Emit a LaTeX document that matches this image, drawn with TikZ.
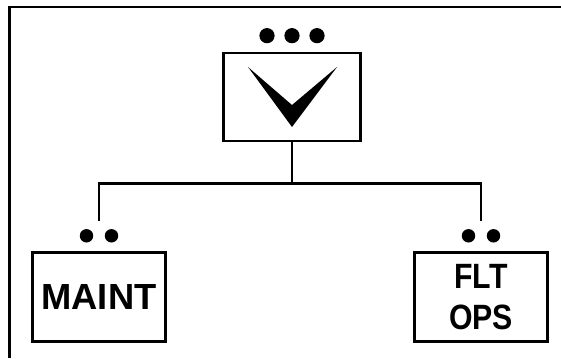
\documentclass[tikz,border=0pt]{standalone}
\usepackage{fontspec}
\setmainfont{Liberation Sans}
\usepackage{tikz}
\usetikzlibrary{positioning, calc}

\begin{document}
\begin{tikzpicture}[
        x=0.03cm, y=-0.03cm,
        b/.style={rectangle, draw, line width=2.4pt, fill=white, align=center, inner sep=0pt,
            minimum width=114pt, minimum height=76.5pt},
        ln/.style={line width=2.4pt},
        pip/.style={circle, fill=black, inner sep=0pt, minimum size=11.5pt}
    ]
    \useasboundingbox (0,0) rectangle (561,358);
    \draw[ln] (561,7) -- (9.5,7) -- (9.5,358);
    \node[b, minimum width=117pt, minimum height=75pt] (sel) at (292,97) {};
    \node[b, font=\fontsize{31}{35}\selectfont\bfseries] (maint) at (99,297) {MAINT};
    \node[b, font=\fontsize{30}{35}\selectfont\bfseries] (fltops) at (481,297)
        {\scalebox{0.86}[1]{FLT}\\\scalebox{0.86}[1]{OPS}};
    % check mark
    \fill[shift={(sel.center)}] (-44,-30) -- (0,8) -- (45,-30) -- (0,30) -- cycle;
    % dots
    \foreach \dx [count=\k] in {-25,0,25}
        \node[pip, minimum size=13pt] (sdot\k) at ($(sel.north)+(\dx,-16)$) {};
    \foreach \dx [count=\k] in {-12.5,12.5} {
        \node[pip] (mdot\k) at ($(maint.north)+(\dx,-15)$) {};
        \node[pip] (fdot\k) at ($(fltops.north)+(\dx,-15)$) {};
    }
    % links
    \coordinate (hub) at ($(sel.south)+(0,41)$);
    \coordinate (mjoin) at ($(maint.north)+(0,-30)$);
    \coordinate (fjoin) at ($(fltops.north)+(0,-30)$);
    \draw[ln] (sel.south) -- (hub);
    \draw[ln] (mjoin) |- (hub) -| (fjoin);
\end{tikzpicture}
\end{document}
